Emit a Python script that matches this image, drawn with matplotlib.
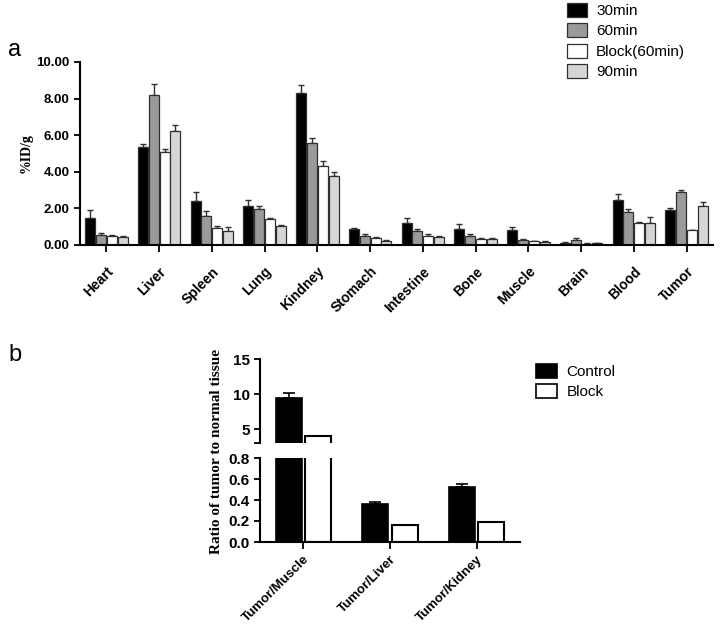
import numpy as np
import matplotlib
matplotlib.use("Agg")
import matplotlib.pyplot as plt
from matplotlib.patches import Patch

# ---------------- data: panel a ----------------
organs = ["Heart", "Liver", "Spleen", "Lung", "Kindney", "Stomach", "Intestine",
          "Bone", "Muscle", "Brain", "Blood", "Tumor"]
series_a = ["30min", "60min", "Block(60min)", "90min"]
v30 = [1.50, 5.38, 2.42, 2.13, 8.28, 0.85, 1.20, 0.88, 0.82, 0.12, 2.47, 1.92]
e30 = [0.40, 0.15, 0.45, 0.35, 0.45, 0.10, 0.30, 0.28, 0.18, 0.03, 0.30, 0.08]
v60 = [0.55, 8.20, 1.58, 1.97, 5.55, 0.48, 0.78, 0.50, 0.30, 0.27, 1.80, 2.88]
e60 = [0.10, 0.60, 0.30, 0.15, 0.30, 0.10, 0.08, 0.10, 0.05, 0.13, 0.15, 0.15]
vblk = [0.48, 5.10, 0.95, 1.40, 4.30, 0.38, 0.50, 0.35, 0.20, 0.08, 1.22, 0.80]
eblk = [0.05, 0.15, 0.10, 0.07, 0.28, 0.05, 0.08, 0.04, 0.02, 0.02, 0.05, 0.03]
v90 = [0.42, 6.25, 0.78, 1.02, 3.78, 0.22, 0.43, 0.32, 0.17, 0.10, 1.22, 2.13]
e90 = [0.06, 0.30, 0.18, 0.07, 0.20, 0.03, 0.05, 0.05, 0.03, 0.03, 0.30, 0.20]
colors_a = ["#000000", "#9a9a9a", "#ffffff", "#d6d6d6"]
yticks_a = [0, 2, 4, 6, 8, 10]

# ---------------- data: panel b ----------------
ratios = ["Tumor/Muscle", "Tumor/Liver", "Tumor/Kidney"]
series_b = ["Control", "Block"]
ctrl = [9.45, 0.36, 0.528]
ctrl_err = [0.70, 0.025, 0.025]
blk = [3.95, 0.161, 0.19]
blk_err = [0.05, 0.005, 0.005]
colors_b = ["#000000", "#ffffff"]

sans = ["Liberation Sans", "DejaVu Sans"]
serif = ["Liberation Serif", "DejaVu Serif"]
plt.rcParams["font.family"] = sans

fig = plt.figure(figsize=(7.21, 6.30), dpi=100)
W, H = 721, 630

def rect(l, t, r, b):
    return [l / W, 1 - b / H, (r - l) / W, (b - t) / H]

edge = "#303030"

# ---------------- panel a ----------------
ax = fig.add_axes(rect(80, 62, 713, 245))
x = np.arange(len(organs))
bw = 0.19
step = 0.205
vals = [v30, v60, vblk, v90]
errs = [e30, e60, eblk, e90]
for i, (v, e, c, name) in enumerate(zip(vals, errs, colors_a, series_a)):
    pos = x + (i - 1.5) * step
    ax.bar(pos, v, bw, color=c, edgecolor=edge, linewidth=0.9, label=name, zorder=2)
    ax.errorbar(pos, v, yerr=[np.zeros(len(v)), e], fmt="none", ecolor=edge,
                elinewidth=1.0, capsize=2.5, capthick=1.0, zorder=1)
ax.set_xlim(-0.5, 11.5)
ax.set_ylim(0, 10)
ax.set_yticks(yticks_a)
ax.set_yticklabels([f"{t:.2f}" for t in yticks_a], fontsize=9.5, fontweight="bold")
ax.set_xticks(x)
ax.set_xticklabels(organs, rotation=45, ha="right", rotation_mode="anchor",
                   fontsize=10, fontweight="bold")
ax.tick_params(axis="x", length=5, width=1.3, pad=9)
ax.tick_params(axis="y", length=4, width=1.3)
for s in ["top", "right"]:
    ax.spines[s].set_visible(False)
for s in ["left", "bottom"]:
    ax.spines[s].set_linewidth(1.5)
ax.set_ylabel("%ID/g", family=serif, fontweight="bold", fontsize=10, labelpad=3)

handles_a = [Patch(facecolor=c, edgecolor=edge, linewidth=0.9) for c in colors_a]
fig.legend(handles_a, series_a, loc="upper left", bbox_to_anchor=(567 / W, 1 - 3 / H),
           frameon=False, fontsize=11, handlelength=1.3, handleheight=1.0,
           labelspacing=0.35, handletextpad=0.6, borderpad=0, borderaxespad=0)

fig.text(8 / W, 1 - 50 / H, "a", fontsize=17, va="center", ha="left")
fig.text(8 / W, 1 - 355 / H, "b", fontsize=17, va="center", ha="left")

# ---------------- panel b ----------------
axu = fig.add_axes(rect(260, 359, 520, 443))
axl = fig.add_axes(rect(260, 458, 520, 542))
xb = np.arange(len(ratios))
bwb = 0.3
off = 0.17
for a in (axu, axl):
    a.bar(xb - off, ctrl, bwb, color=colors_b[0], edgecolor="#000000", linewidth=1.2,
          label=series_b[0], zorder=2)
    a.bar(xb + off, blk, bwb, color=colors_b[1], edgecolor="#000000", linewidth=1.5,
          label=series_b[1], zorder=2)
    a.errorbar(xb - off, ctrl, yerr=[np.zeros(3), ctrl_err], fmt="none", ecolor="#000000",
               elinewidth=1.2, capsize=4, capthick=1.2, zorder=1)
    a.errorbar(xb + off, blk, yerr=[np.zeros(3), blk_err], fmt="none", ecolor="#000000",
               elinewidth=1.2, capsize=4, capthick=1.2, zorder=1)
    a.set_xlim(-0.5, 2.5)
    for s in ["top", "right"]:
        a.spines[s].set_visible(False)
    a.spines["left"].set_linewidth(1.5)
    a.tick_params(axis="y", length=4, width=1.3, labelsize=11)

axu.set_ylim(3, 15)
axu.set_yticks([3, 5, 10, 15])
axu.set_yticklabels(["", "5", "10", "15"], fontweight="bold", fontsize=11)
axu.spines["bottom"].set_visible(False)
axu.set_xticks([])

axl.set_ylim(0, 0.8)
axl.set_yticks([0, 0.2, 0.4, 0.6, 0.8])
axl.set_yticklabels(["0.0", "0.2", "0.4", "0.6", "0.8"], fontweight="bold", fontsize=11)
axl.spines["bottom"].set_linewidth(1.5)
axl.set_xticks(xb)
axl.set_xticklabels(ratios, rotation=45, ha="right", rotation_mode="anchor",
                    fontsize=9.5, fontweight="bold")
axl.tick_params(axis="x", length=5, width=1.3, pad=3)

fig.text(217 / W, 1 - 451 / H, "Ratio of tumor to normal tissue", rotation=90,
         family=serif, fontweight="bold", fontsize=11, ha="center", va="center")

handles_b = [Patch(facecolor=c, edgecolor="#000000", linewidth=1.2) for c in colors_b]
fig.legend(handles_b, series_b, loc="upper left", bbox_to_anchor=(536 / W, 1 - 364 / H),
           frameon=False, fontsize=11, handlelength=1.4, handleheight=1.0,
           labelspacing=0.35, handletextpad=0.6, borderpad=0, borderaxespad=0)

fig.savefig("out.png", dpi=100, facecolor="white")
